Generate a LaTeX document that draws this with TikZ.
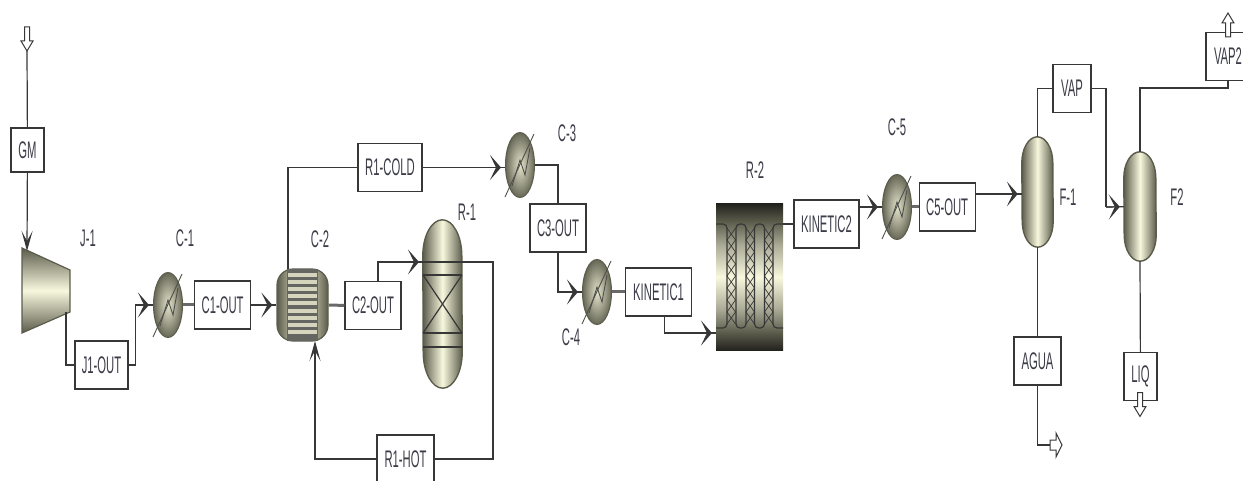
\documentclass[tikz,border=0pt]{standalone}
\usepackage{fontspec}
\setmainfont[FakeStretch=0.47]{Liberation Sans}
\usepackage{tikz}
\usetikzlibrary{shapes.geometric, arrows.meta, positioning}
\definecolor{eqdark}{RGB}{92,92,76}
\definecolor{eqmid}{RGB}{170,170,150}
\definecolor{eqlight}{RGB}{248,248,222}
\definecolor{eqnegro}{RGB}{35,35,30}
\definecolor{trazo}{RGB}{55,55,55}
\definecolor{texto}{RGB}{60,60,72}
\pgfdeclareverticalshading{lecho}{100bp}{color(0bp)=(eqnegro); color(25bp)=(eqnegro);
  color(31bp)=(eqdark); color(39bp)=(eqmid); color(50bp)=(eqlight); color(61bp)=(eqmid);
  color(69bp)=(eqdark); color(75bp)=(eqnegro); color(100bp)=(eqnegro)}
\tikzset{
  caja/.style={rectangle, draw=trazo, fill=white, line width=1.2pt, inner sep=0pt,
    minimum height=48pt, font=\fontsize{24}{26}\selectfont, text=texto},
  etiq/.style={inner sep=0pt, font=\fontsize{24}{26}\selectfont, text=texto},
  cambiador/.style={ellipse, draw=eqdark, line width=1pt, inner sep=0pt, minimum width=29pt,
    minimum height=65pt, inner color=eqlight!75!eqmid, outer color=eqdark!85!eqmid},
  vasija/.style={rectangle, inner sep=0pt},
  acero/.style={draw=eqdark, line width=1.4pt, left color=eqdark, right color=eqdark, middle color=eqlight},
  linea/.style={line width=1.2pt, color=trazo},
  grueso/.style={line width=3pt, color=trazo!75},
  flecha/.style={line width=1.2pt, color=trazo, -{Stealth[length=11pt,width=25pt,inset=6pt]},
    shorten >=4pt, postaction={draw, -, shorten >=0pt}},
  flechav/.style={line width=1.2pt, color=trazo, -{Stealth[length=20pt,width=11pt,inset=10pt]}},
  hueco/.style={draw=trazo, fill=white, line width=1pt}
}

\begin{document}
\begin{tikzpicture}[x=1pt, y=-1pt]
  \useasboundingbox (0,0) rectangle (1243,481);
  \clip (0,0) rectangle (1243,481);
  % alimentacion y compresor
  \node[caja, minimum width=33pt, minimum height=44pt] (gm) at (27.5,150) {GM};
  \path[draw=eqdark, line width=1.2pt, top color=eqdark, bottom color=eqdark, middle color=eqlight]
    (22,248) -- (70,270) -- (70,312) -- (22,333) -- cycle;
  \coordinate (j1in) at (27,251);
  \coordinate (j1out) at (66,312);
  \node[etiq] (lj1) at (88,238) {J-1};
  \node[caja, minimum width=53pt] (j1out2) at (101.5,365) {J1-OUT};
  % cambiadores
  \node[cambiador] (c1) at (168,305) {};
  \node[caja, minimum width=56pt, right=11pt of c1] (c1out) {C1-OUT};
  \node[etiq] (lc1) at (185,238) {C-1};
  \node[cambiador] (c3) at (520,165) {};
  \node[etiq] (lc3) at (567,133) {C-3};
  \node[caja, minimum width=56pt] (c3out) at (558,228) {C3-OUT};
  \node[cambiador] (c4) at (597,292) {};
  \node[caja, minimum width=66pt, right=13pt of c4] (kin1) {KINETIC1};
  \node[etiq] (lc4) at (571,337) {C-4};
  \node[cambiador] (c5) at (897,207) {};
  \node[caja, minimum width=56pt, right=6.5pt of c5] (c5out) {C5-OUT};
  \node[etiq] (lc5) at (897,127) {C-5};
  % intercambiador C-2
  \node[rectangle, draw=eqdark, line width=1.2pt, rounded corners=16pt, minimum width=51pt, minimum height=72pt,
    left color=eqdark, right color=eqdark, middle color=eqlight, inner sep=0pt] (c2) at (302.5,305) {};
  \fill[eqnegro!70] ([shift={(-15.5,-35.5)}]c2.center) rectangle ([shift={(15.5,35.5)}]c2.center);
  \foreach \y in {-31.5,-24.5,...,30} \fill[eqlight!55!eqmid] ([shift={(-14.5,\y)}]c2.center) rectangle ([shift={(14.5,\y+4)}]c2.center);
  \node[etiq] (lc2) at (320,239) {C-2};
  \coordinate (c2top) at (288,269);
  \coordinate (c2bot) at (315,341);
  \node[caja, minimum width=64pt] (r1cold) at (390,167.5) {R1-COLD};
  \node[caja, minimum width=56pt] (c2out) at (373,305.5) {C2-OUT};
  \node[caja, minimum width=57pt] (r1hot) at (405.5,459) {R1-HOT};
  % reactor R-1 y separadores
  \node[vasija, minimum width=39pt, minimum height=168pt] (r1) at (442.5,304) {};
  \node[vasija, minimum width=31pt, minimum height=110pt] (f1) at (1037.5,192) {};
  \node[vasija, minimum width=32pt, minimum height=109pt] (f2) at (1140,206.5) {};
  \foreach \v/\w/\d in {r1/19.5/36, f1/15.5/26, f2/16/26}
    \path[acero] ([yshift=-\d pt]\v.north west) arc[start angle=180, end angle=360, x radius=\w, y radius=\d]
      -- ([yshift=\d pt]\v.south east) arc[start angle=0, end angle=180, x radius=\w, y radius=\d] -- cycle;
  \foreach \y in {-42,-29,29,43} \draw[linea] ([shift={(-19.5,\y)}]r1.center) -- ([shift={(19.5,\y)}]r1.center);
  \draw[linea] ([shift={(-19.5,-29)}]r1.center) -- ([shift={(19.5,29)}]r1.center);
  \draw[linea] ([shift={(19.5,-29)}]r1.center) -- ([shift={(-19.5,29)}]r1.center);
  \node[etiq] (lr1) at (467,212) {R-1};
  \coordinate (r1in) at (423,262);
  \coordinate (r1out) at (462,262);
  \node[etiq] (lf1) at (1068,197) {F-1};
  \node[etiq] (lf2) at (1177,197) {F2};
  % reactor R-2
  \node[rectangle, shading=lecho, inner sep=0pt, minimum width=67pt, minimum height=146pt] (r2) at (749.5,277) {};
  \begin{scope}[shift={(r2.center)}]
    \draw[linea, rounded corners=4pt] (-33.5,-53) -| (-22.5,51) -- (-33.5,51);
    \foreach \x in {-13.5,5} \draw[linea, rounded corners=4pt] (\x,-53) rectangle (\x+10,51);
    \draw[linea, rounded corners=4pt] (33.5,-53) -| (23.5,51) -- (33.5,51);
    \foreach \x in {-22.5,-3.5,15} \foreach \y in {-49,-37,...,35} {
      \draw[line width=.7pt, color=trazo] (\x,\y) -- (\x+8.5,\y+12);
      \draw[line width=.7pt, color=trazo] (\x+8.5,\y) -- (\x,\y+12);
    }
  \end{scope}
  \node[etiq] (lr2) at (755,170) {R-2};
  \coordinate (r2in) at (716,333);
  \coordinate (r2out) at (783,224);
  \node[caja, minimum width=65pt] (kin2) at (826.5,224) {KINETIC2};
  % cabezas y fondos
  \node[caja, minimum width=38pt] (vap) at (1072,88.5) {VAP};
  \node[caja, minimum width=44pt] (vap2) at (1228,56.5) {VAP2};
  \node[caja, minimum width=47pt] (agua) at (1037.5,361) {AGUA};
  \node[caja, minimum width=33pt] (liq) at (1140.5,376.5) {LIQ};
  % flechas de entrada y salida
  \foreach \n/\x/\y/\s in {gmin/27/39/1, vap2s/1228/25/-1, liqs/1140/404.5/1} {
    \coordinate (\n) at (\x,\y);
    \draw[hueco, shift={(\n)}, yscale=\s] (-2.5,-12) -- (2.5,-12) -- (2.5,2) -- (6,2) -- (0,12) -- (-6,2) -- (-2.5,2) -- cycle;
  }
  \coordinate (aguas) at (1056,445);
  \draw[hueco, shift={(aguas)}] (-6,-5) -- (0,-5) -- (0,-12) -- (6,0) -- (0,12) -- (0,5) -- (-6,5) -- cycle;
  % detalle de los cambiadores
  \foreach \c in {c1,c3,c4,c5} {
    \draw[line width=.9pt, color=eqnegro!80] ([shift={(-15,32)}]\c.center) -- ([shift={(14,-31)}]\c.center);
    \draw[line width=.9pt, color=eqnegro!80] ([shift={(-8,21)}]\c.center) -- ([shift={(0,-5)}]\c.center)
      -- ([shift={(5,10)}]\c.center) -- ([shift={(10,-17)}]\c.center);
  }
  % corrientes
  \draw[linea] ([yshift=-12pt]gmin) -- (gm);
  \draw[flechav] (gm) -- (j1in);
  \draw[linea] (j1out) |- (j1out2);
  \draw[flecha] (j1out2.east) -- ++(7,0) |- (c1);
  \draw[grueso] (c1) -- (c1out);
  \draw[flecha, line width=2pt] (c1out) -- (c2);
  \draw[linea] (c2top) |- (r1cold);
  \draw[flecha] (r1cold.east) -- (c3.west |- r1cold);
  \draw[linea] (c3) -| (c3out);
  \draw[flecha] (c3out) |- (c4);
  \draw[grueso] (c4) -- (kin1);
  \draw[flecha] ([xshift=6pt]kin1.south) |- (r2in);
  \draw[linea] (r2out) -- (kin2);
  \draw[flecha, line width=2pt] (kin2.east |- c5) -- (c5);
  \draw[grueso] (c5) -- (c5out);
  \draw[flecha] (c5out.east |- 0,194) -- (f1.west |- 0,194);
  \draw[grueso] (c2) -- (c2out);
  \draw[flecha] (c2out.north -| 378,0) |- (r1in);
  \draw[linea] (r1out) -| (493,459) -- (r1hot);
  \draw[flechav] (r1hot) -| (c2bot);
  \draw[linea] (f1.north) |- (vap);
  \draw[linea] (vap) -| (1106,207);
  \draw[flecha] (1106,207) -- (f2);
  \draw[linea] (f2.north) |- (1228,88) -- (vap2);
  \draw[linea] (f1.south) -- (agua);
  \draw[linea] (f2.south) -- (liq);
  \draw[linea] (agua.south) |- ([xshift=-6pt]aguas);
\end{tikzpicture}
\end{document}
